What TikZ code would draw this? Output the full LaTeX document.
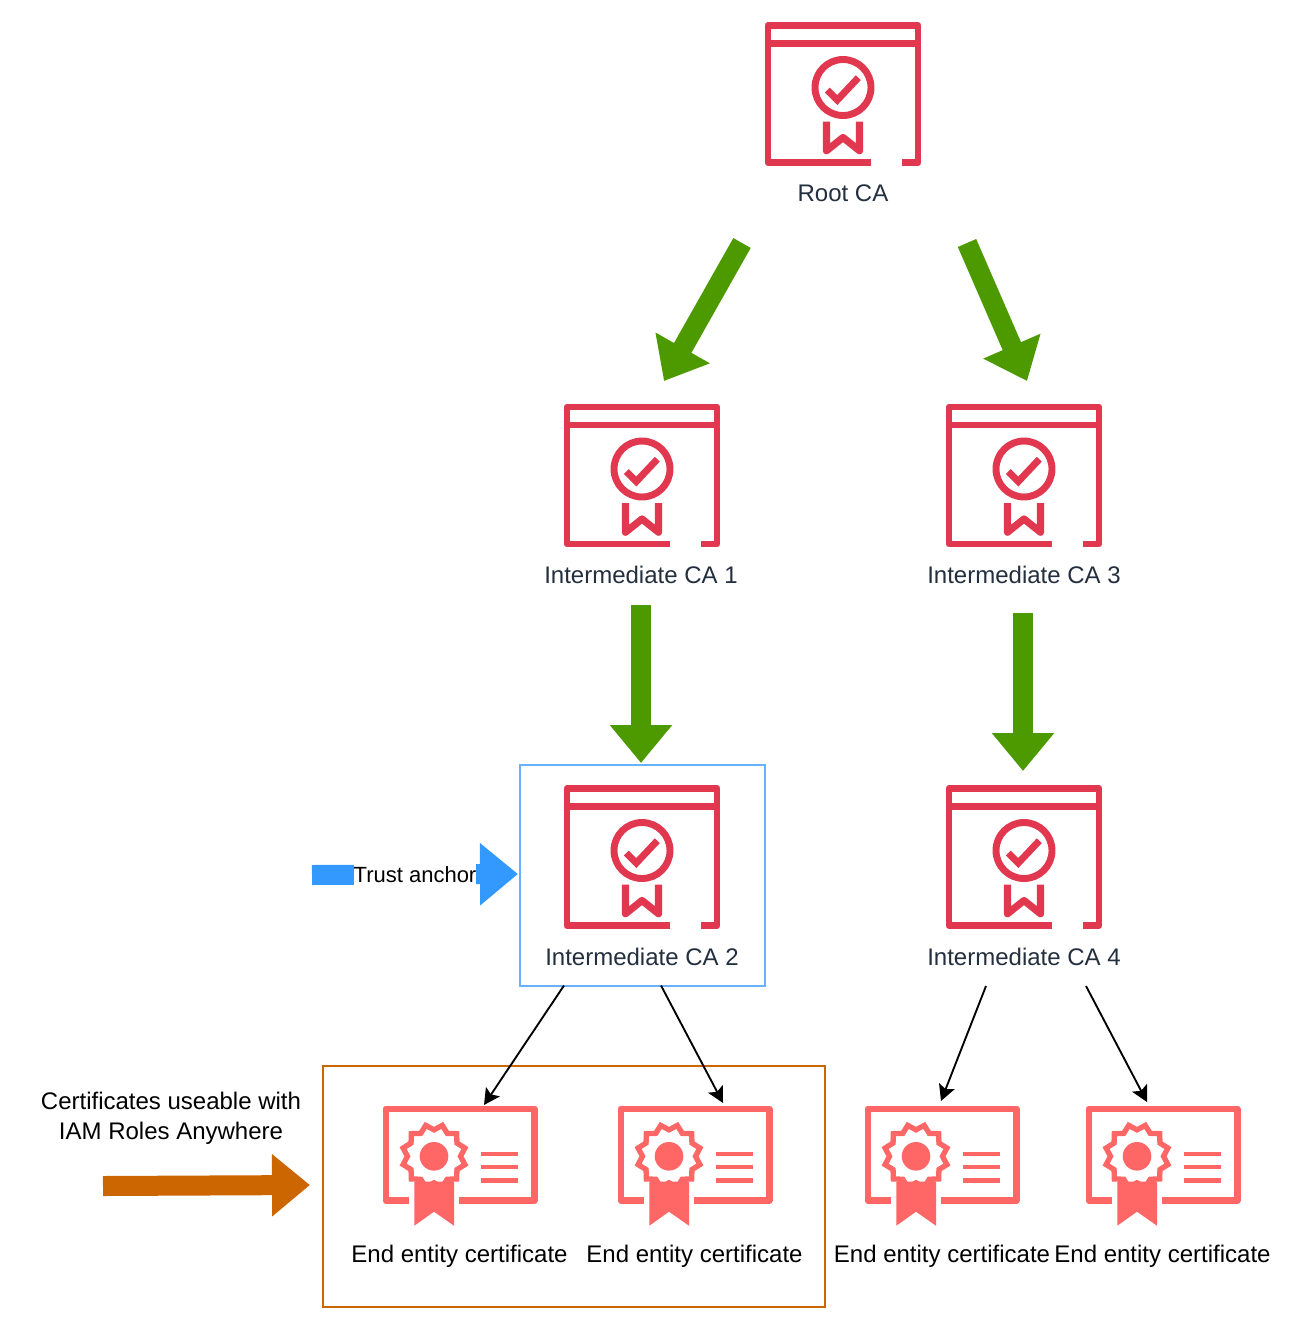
\documentclass[tikz,border=0pt]{standalone}
\usepackage{fontspec}
\setmainfont{Liberation Sans}
\usetikzlibrary{arrows.meta}

\definecolor{cared}{HTML}{E13850}
\definecolor{certred}{HTML}{FF6666}
\definecolor{labelgrey}{HTML}{232F3E}
\definecolor{chaingreen}{HTML}{4D9900}
\definecolor{anchorblue}{HTML}{3399FF}
\definecolor{boxblue}{HTML}{66B2FF}
\definecolor{useorange}{HTML}{CC6600}

\tikzstyle{fonte} = [font=\fontsize{18}{22.5}\selectfont, align=center]
\tikzstyle{calabel} = [fonte, text=labelgrey]
\tikzstyle{certlabel} = [fonte, text=black]
\tikzstyle{bigarrow} = [line width=15pt, -{Triangle[length=28.5pt, width=45pt]}]
\tikzstyle{thinarrow} = [line width=1.4pt, black, -{Stealth[length=12pt, width=12.5pt, inset=2.5pt]}]

\tikzset{
  caicon/.pic={
    \draw [cared, line width=5.2pt, line join=round]
      (27.7,68.5) -- (-75,68.5) -- (-75,-68.5) -- (75,-68.5) -- (75,68.5) -- (59,68.5);
    \draw [cared, line width=5.2pt] (-75,-50.5) -- (75,-50.5);
    \draw [cared, line width=5.2pt] (0,-6.5) circle [radius=28];
    \draw [cared, line width=5.2pt, line join=miter] (-15.7,-4) -- (-5.7,6) -- (15.3,-16.3);
    \draw [cared, line width=5.4pt, line join=round]
      (-16.5,27.7) -- (-16.5,56.7) -- (0,43.5) -- (16.5,56.7) -- (16.5,27.7);
  },
  certicon/.pic={
    \draw [certred, line width=4.8pt, line join=round]
      (-51,45.5) -- (-74.3,45.5) -- (-74.3,-46.3) -- (74.3,-46.3) -- (74.3,45.5) -- (-1,45.5);
    % seal
    \draw [certred, line width=4pt, shift={(-26,1.3)}]
      plot [samples at={0,...,23}] ({15+15*\x}:{ifthenelse(mod(\x,2)==0,32,26.5)}) -- cycle;
    \fill [certred] (-26,1.3) circle [radius=14.3];
    \fill [certred] (-45.7,26.7) -- (-45.7,70.7) -- (-26,56.7) -- (-6,70.7) -- (-6,26.7) -- cycle;
    % text lines
    \draw [certred, line width=3.3pt] (21,-1) -- (58,-1);
    \draw [certred, line width=3.3pt] (21,12) -- (58,12);
    \draw [certred, line width=3.3pt] (21,25.3) -- (58,25.3);
  }
}

\begin{document}
\begin{tikzpicture}[x=0.75pt, y=-0.75pt]

    \useasboundingbox (0,0) rectangle (1292,1328);

    % highlight boxes
    \draw [boxblue, line width=1.5pt] (519.5,764.5) rectangle (764.5,985.5);
    \draw [useorange, line width=1.5pt] (322.5,1066) rectangle (825,1306.5);

    % certificate authorities
    \pic at (843,94) {caicon};
    \node at (843,193) [calabel] (rootlabel) {Root CA};

    \pic at (642,475.5) {caicon};
    \node at (641,574.5) [calabel] (ca1label) {Intermediate CA 1};

    \pic at (1024,475.5) {caicon};
    \node at (1024,574.5) [calabel] (ca3label) {Intermediate CA 3};

    \pic at (642,857) {caicon};
    \node at (642,956.5) [calabel] (ca2label) {Intermediate CA 2};

    \pic at (1024,857) {caicon};
    \node at (1024,956.5) [calabel] (ca4label) {Intermediate CA 4};

    % end entity certificates
    \pic at (460,1155) {certicon};
    \node at (459.5,1256) [certlabel] (cert1label) {End entity certificate};

    \pic at (695,1155) {certicon};
    \node at (694.5,1256) [certlabel] (cert2label) {End entity certificate};

    \pic at (942,1155) {certicon};
    \node at (942,1256) [certlabel] (cert3label) {End entity certificate};

    \pic at (1163,1155) {certicon};
    \node at (1162.5,1256) [certlabel] (cert4label) {End entity certificate};

    % arrow ends
    \coordinate (rootleft) at (742,243);
    \coordinate (ca1top) at (664,381);
    \coordinate (rootright) at (967,243);
    \coordinate (ca3top) at (1027,381);
    \coordinate (ca1out) at (641,605);
    \coordinate (ca2top) at (641,763);
    \coordinate (ca3out) at (1023,613);
    \coordinate (ca4top) at (1023,771);
    \coordinate (ca2left) at (564,985.5);
    \coordinate (cert1top) at (484,1105);
    \coordinate (ca2right) at (661,985.5);
    \coordinate (cert2top) at (723,1103);
    \coordinate (ca4left) at (986,986);
    \coordinate (cert3top) at (941,1101);
    \coordinate (ca4right) at (1086,986);
    \coordinate (cert4top) at (1147,1102);
    \coordinate (anchorstart) at (312,875);
    \coordinate (anchorend) at (518,874);
    \coordinate (usablestart) at (103,1186);
    \coordinate (usableend) at (310,1185);

    % chain arrows
    \draw [bigarrow, chaingreen] (rootleft) -- (ca1top);
    \draw [bigarrow, chaingreen] (rootright) -- (ca3top);
    \draw [bigarrow, chaingreen] (ca1out) -- (ca2top);
    \draw [bigarrow, chaingreen] (ca3out) -- (ca4top);

    \draw [thinarrow] (ca2left) -- (cert1top);
    \draw [thinarrow] (ca2right) -- (cert2top);
    \draw [thinarrow] (ca4left) -- (cert3top);
    \draw [thinarrow] (ca4right) -- (cert4top);

    % trust anchor
    \draw [bigarrow, anchorblue] (anchorstart) -- (anchorend);
    \node at (415,875) [fill=white, inner xsep=0pt, inner ysep=4pt, text=black,
        font=\fontsize{16.5}{20}\selectfont] (anchorlabel) {Trust anchor};

    % usable certificates
    \draw [bigarrow, useorange] (usablestart) -- (usableend);
    \node at (171,1118) [certlabel] (usablelabel) {Certificates useable with\\IAM Roles Anywhere};

\end{tikzpicture}
\end{document}
